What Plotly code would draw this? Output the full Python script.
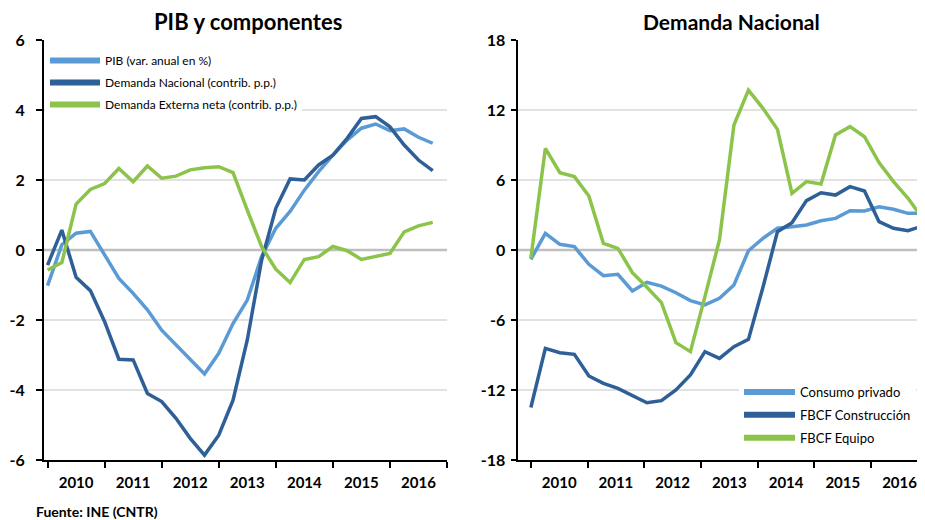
import plotly.graph_objects as go

# quarterly data, 2010 T1 .. 2016 T4
quarters = list(range(28))
years = ["2010", "2011", "2012", "2013", "2014", "2015", "2016"]

# PIB y componentes
pib = [-1.02, 0.15, 0.48, 0.53, -0.14, -0.81, -1.24, -1.71, -2.29, -2.71, -3.14, -3.54,
       -2.95, -2.10, -1.43, -0.19, 0.62, 1.10, 1.71, 2.24, 2.71, 3.14, 3.48, 3.60,
       3.41, 3.46, 3.22, 3.05]
demanda_nacional = [-0.43, 0.57, -0.78, -1.16, -2.05, -3.12, -3.14, -4.10, -4.33, -4.81, -5.38, -5.86,
                    -5.29, -4.29, -2.57, -0.30, 1.19, 2.03, 2.00, 2.43, 2.71, 3.19, 3.76, 3.81,
                    3.52, 3.00, 2.57, 2.27]
demanda_externa = [-0.57, -0.36, 1.31, 1.73, 1.90, 2.33, 1.95, 2.40, 2.05, 2.11, 2.29, 2.35,
                   2.38, 2.21, 1.14, 0.10, -0.55, -0.93, -0.27, -0.19, 0.10, -0.02, -0.27, -0.19,
                   -0.10, 0.52, 0.69, 0.79]

# Demanda Nacional
consumo_privado = [-0.80, 1.43, 0.49, 0.29, -1.23, -2.20, -2.09, -3.51, -2.77, -3.09, -3.66, -4.34,
                   -4.71, -4.14, -3.00, -0.06, 1.00, 1.86, 2.00, 2.14, 2.51, 2.71, 3.37, 3.34,
                   3.71, 3.49, 3.14, 3.14]
fbcf_construccion = [-13.5, -8.43, -8.80, -8.94, -10.8, -11.43, -11.86, -12.51, -13.09, -12.91, -12.0, -10.71,
                     -8.71, -9.29, -8.29, -7.66, -3.2, 1.57, 2.34, 4.23, 4.91, 4.71, 5.43, 5.06,
                     2.43, 1.86, 1.66, 2.06]
fbcf_equipo = [-0.71, 8.71, 6.63, 6.29, 4.63, 0.57, 0.14, -1.94, -3.2, -4.51, -7.94, -8.71,
               -4.0, 0.86, 10.71, 13.71, 12.14, 10.34, 4.86, 5.86, 5.66, 9.86, 10.57, 9.71,
               7.49, 5.86, 4.43, 2.71]

left_ticks = [-6, -4, -2, 0, 2, 4, 6]
right_ticks = [-18, -12, -6, 0, 6, 12, 18]
left_grid = [-4, -2, 2, 4]
right_grid = [-12, -6, 6, 12]

LIGHT = "#5B9BD5"
DARK = "#2F5F97"
GREEN = "#8CC34A"
W, H = 925, 520
OFF = 8  # page body margin
FONT = "Lato"


def fx(p):
    return (p - OFF) / W


def fy(p):
    return 1 - (p - OFF) / H


fig = go.Figure()

left = [("PIB (var. anual en %)", pib, LIGHT),
        ("Demanda Nacional (contrib. p.p.)", demanda_nacional, DARK),
        ("Demanda Externa neta (contrib. p.p.)", demanda_externa, GREEN)]
right = [("Consumo privado", consumo_privado, LIGHT),
         ("FBCF Construcción", fbcf_construccion, DARK),
         ("FBCF Equipo", fbcf_equipo, GREEN)]

for (name, vals, color) in left:
    fig.add_trace(go.Scatter(x=quarters, y=vals, mode="lines", name=name,
                             line=dict(color=color, width=3.5), showlegend=False,
                             xaxis="x", yaxis="y"))
for (name, vals, color) in right:
    fig.add_trace(go.Scatter(x=quarters, y=vals, mode="lines", name=name,
                             line=dict(color=color, width=3.5), showlegend=False,
                             xaxis="x2", yaxis="y2"))

# legend entries with thicker swatches, one group each so tracegroupgap spaces rows
for (name, vals, color) in left:
    fig.add_trace(go.Scatter(x=[None], y=[None], mode="lines", name=name, legendgroup=name,
                             line=dict(color=color, width=6), legend="legend",
                             xaxis="x", yaxis="y"))
for (name, vals, color) in right:
    fig.add_trace(go.Scatter(x=[None], y=[None], mode="lines", name=name, legendgroup=name,
                             line=dict(color=color, width=6), legend="legend2",
                             xaxis="x2", yaxis="y2"))

# gridlines (none at the top edge, as in the original)
shapes = []
for v in left_grid + [0]:
    shapes.append(dict(type="line", xref="x domain", yref="y", x0=0, x1=1, y0=v, y1=v,
                       layer="below",
                       line=dict(color="#BFBFBF" if v == 0 else "#D9D9D9", width=2.5 if v == 0 else 1.5)))
for v in right_grid + [0]:
    shapes.append(dict(type="line", xref="x2 domain", yref="y2", x0=0, x1=1, y0=v, y1=v,
                       layer="below",
                       line=dict(color="#BFBFBF" if v == 0 else "#D9D9D9", width=2.5 if v == 0 else 1.5)))

# year boundaries on each x axis
left_bounds = [4 * k for k in range(8)]
right_bounds = [3.91 * k for k in range(7)]

xcommon = dict(showline=True, linecolor="black", linewidth=2, showgrid=False, zeroline=False,
               ticks="", tickfont=dict(family=FONT, size=15, color="black", weight="bold"),
               ticktext=years, automargin=False, ticklabelstandoff=8)
ycommon = dict(showline=True, linecolor="black", linewidth=2, ticks="outside", ticklen=6,
               tickwidth=2, tickcolor="black", showgrid=False, zeroline=False, automargin=False,
               tickfont=dict(family=FONT, size=16, color="black", weight="bold"))

fig.update_layout(
    width=W, height=H,
    margin=dict(l=0, r=0, t=0, b=0, autoexpand=False),
    paper_bgcolor="white", plot_bgcolor="white",
    shapes=shapes,
    xaxis=dict(xcommon, domain=[fx(44), fx(447)], range=[-0.25, 28], anchor="y",
               tickvals=[b + 2 for b in left_bounds[:7]],
               minor=dict(tickvals=left_bounds, ticks="outside", ticklen=6, tickwidth=2,
                          tickcolor="black", showgrid=False)),
    yaxis=dict(ycommon, domain=[fy(460), fy(40)], range=[-6, 6], anchor="x",
               tickvals=left_ticks, ticktext=[str(v) for v in left_ticks], ticklabelstandoff=8),
    xaxis2=dict(xcommon, domain=[fx(517.5), fx(925)], range=[-0.92, 27.17], anchor="y2",
                tickvals=[b + 1.955 for b in right_bounds],
                minor=dict(tickvals=right_bounds, ticks="outside", ticklen=6, tickwidth=2,
                           tickcolor="black", showgrid=False)),
    yaxis2=dict(ycommon, domain=[fy(460), fy(40)], range=[-18, 18], anchor="x2",
                tickvals=right_ticks, ticktext=[str(v) for v in right_ticks], ticklen=5,
                ticklabelstandoff=2),
    legend=dict(x=fx(45), y=fy(46), xanchor="left", yanchor="top", bgcolor="white",
                font=dict(family=FONT, size=12, color="black"), itemwidth=50,
                tracegroupgap=3),
    legend2=dict(x=fx(739), y=fy(377), xanchor="left", yanchor="top", bgcolor="white",
                 font=dict(family=FONT, size=13, color="black"), itemwidth=51,
                 tracegroupgap=3),
    annotations=[
        dict(text="<b>PIB y componentes</b>", x=fx(248), y=fy(21), xref="paper", yref="paper",
             xanchor="center", yanchor="middle", showarrow=False,
             font=dict(family=FONT, size=22, color="black")),
        dict(text="<b>Demanda Nacional</b>", x=fx(731), y=fy(21), xref="paper", yref="paper",
             xanchor="center", yanchor="middle", showarrow=False,
             font=dict(family=FONT, size=21, color="black")),
        dict(text="<b>Fuente: INE (CNTR)</b>", x=fx(34), y=fy(511), xref="paper", yref="paper",
             xanchor="left", yanchor="middle", showarrow=False,
             font=dict(family=FONT, size=14, color="black")),
    ],
)

fig.write_html("out.html")
